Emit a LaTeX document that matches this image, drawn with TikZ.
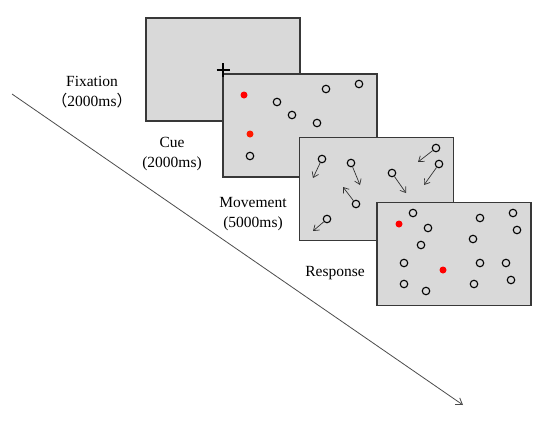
\documentclass[tikz,border=0pt]{standalone}
\usepackage{fontspec}
\setmainfont{Liberation Serif}
\newfontfamily\cjk{Noto Sans CJK SC}
\usetikzlibrary{arrows.meta}

\tikzset{
  screen/.style={draw=black!78, line width=1.4pt, fill=black!15, minimum width=154pt, minimum height=103pt, inner sep=0pt},
  ball/.style={circle, draw=black, line width=1.1pt, minimum size=7.5pt, inner sep=0pt},
  target/.style={circle, fill=red, minimum size=7pt, inner sep=0pt},
  drift/.style={-{Straight Barb[length=5pt,width=7pt]}, black!80, line width=0.7pt},
  phase/.style={font=\fontsize{15.5}{20}\selectfont, align=center}
}

\begin{document}
\begin{tikzpicture}[x=1pt,y=-1pt]
            \useasboundingbox (0,0) rectangle (550,421);
            % time axis
            \coordinate (t0) at (12,94);
            \coordinate (t1) at (463,405);
            \draw[-{Straight Barb[length=6pt,width=8pt]}, black!70, line width=0.8pt] (t0) -- (t1);
            % fixation screen
            \node[screen] (fix) at (223,69.5) {};
            \node[phase] (fixlab) at (92,92) {Fixation\\{\cjk （}2000ms{\cjk ）}};
            % cue screen
            \node[screen] (cue) at (300,125.5) {};
            \draw[line width=1.8pt] (216.5,70) -- (230,70) (223,63) -- (223,77);
            \node[target] (c1) at (244,95) {};
            \node[target, fill=red!80!orange] (c2) at (250,134) {};
            \foreach \x/\y [count=\i] in {277/102, 326/89, 359/84, 292/115, 317/123, 250/156}
              \node[ball] (cb\i) at (\x,\y) {};
            \node[phase] (cuelab) at (172,154) {Cue\\(2000ms)};
            % movement screen
            \node[screen] (move) at (376.5,189) {};
            \foreach \x/\y/\u/\v [count=\i] in {322/159/313/178, 351/163/360/185, 356/204/343/187, 392/173/406/193, 436/148/418/162, 439/164/424/185, 327/219/313/231} {
              \node[ball] (mb\i) at (\x,\y) {};
              \coordinate (md\i) at (\u,\v);
              \draw[drift] (mb\i) -- (md\i);
            }
            \node[phase] (movelab) at (253,214) {Movement\\(5000ms)};
            % response screen
            \node[screen] (resp) at (454,254) {};
            \node[target] (r1) at (399,224) {};
            \node[target] (r2) at (443,270) {};
            \foreach \x/\y [count=\i] in {413/213, 428/228, 421/245, 404/263, 404/284, 426/291, 480/218, 473/239, 480/263, 474/284, 513/213, 517/230, 506/263, 511/280}
              \node[ball] (rb\i) at (\x,\y) {};
            \node[phase] (resplab) at (335,273) {Response};
        \end{tikzpicture}
\end{document}
